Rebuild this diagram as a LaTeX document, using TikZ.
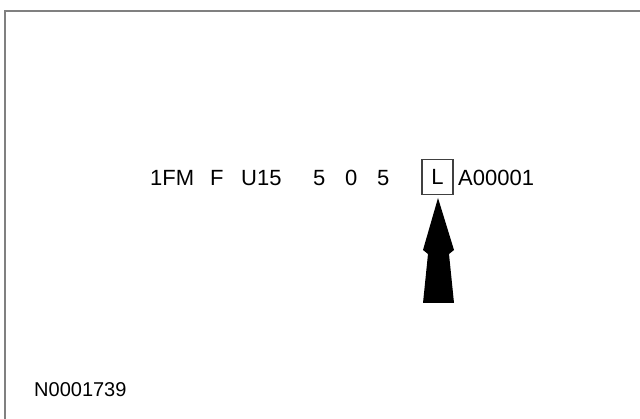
\documentclass[tikz,border=0pt]{standalone}
\usepackage{fontspec}
\setmainfont{Liberation Sans}
\begin{document}
\begin{tikzpicture}[x=1pt,y=-1pt,
  tok/.style={anchor=base west,inner sep=0pt,font=\fontsize{22}{26}\selectfont},
  lbox/.style={draw=black!75,line width=1.2pt,minimum width=31pt,minimum height=35pt,inner sep=0pt,font=\fontsize{22}{26}\selectfont},
  small/.style={anchor=base west,inner sep=0pt,font=\fontsize{20}{24}\selectfont},
  frame/.style={draw=black!50,line width=2pt}]
\useasboundingbox (0,0) rectangle (640,419);
\fill[white] (0,0) rectangle (640,419);
\draw[frame] (5,419) -- (5,11) -- (640,11);
\node[tok] (t1) at (150,186) {1FM};
\node[tok] (t2) at (210,186) {F};
\node[tok] (t3) at (241,186) {U15};
\node[tok] (t4) at (313,186) {5};
\node[tok] (t5) at (345,186) {0};
\node[tok] (t6) at (377,186) {5};
\node[lbox] (L) at (437.5,177) {L};
\node[tok] (t7) at (458,186) {A00001};
\node[small] (id) at (34,397) {N0001739};
\fill[black] (438,198) -- (423,250) -- (428,254) -- (423,303) -- (454,303) -- (449,254) -- (454,250) -- cycle;
\end{tikzpicture}
\end{document}
